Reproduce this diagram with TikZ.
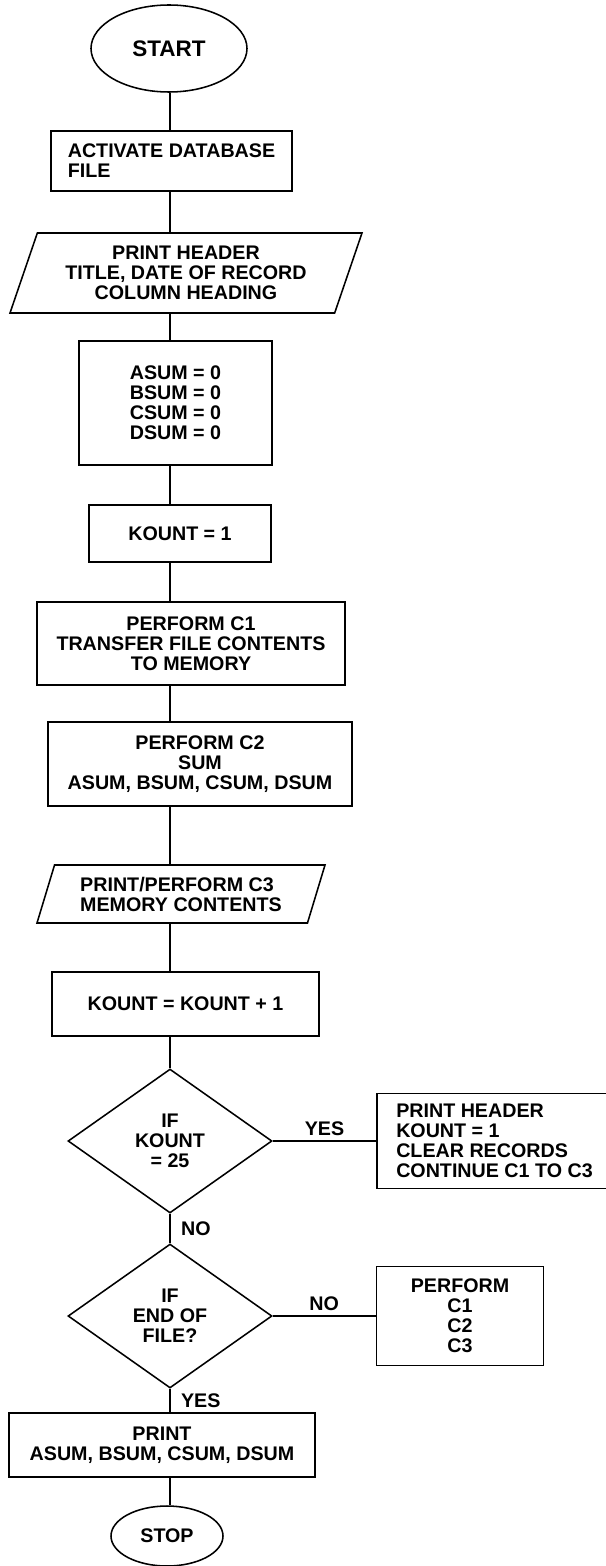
\documentclass[tikz,border=0pt]{standalone}
\usepackage{fontspec}
\setmainfont{Liberation Sans}
\usetikzlibrary{shapes.geometric}

\begin{document}
\begin{tikzpicture}[line width=1.1pt,
    every node/.style={font=\fontsize{14}{14.2}\selectfont\bfseries},
    box/.style={draw, rectangle, inner sep=0pt},
    io/.style={draw, trapezium, trapezium left angle=63, trapezium right angle=117, trapezium stretches body, inner sep=0pt},
    dec/.style={draw, diamond, inner sep=0pt},
    term/.style={draw, ellipse, inner sep=0pt}]
                \useasboundingbox (0,0) rectangle (15.125,-39.15);
                \coordinate (sp) at (4.25,0);

                \node[term, minimum width=3.9cm, minimum height=2.175cm, font=\fontsize{16}{16}\selectfont\bfseries] (start) at (4.225,-1.2125) {START};
                \node[box, minimum width=6.025cm, minimum height=1.5cm, align=left] (act) at (4.2875,-4.025) {ACTIVATE DATABASE\\FILE};
                \node[io, minimum width=8.8cm, minimum height=2cm, align=center] (hdr) at (4.65,-6.825) {PRINT HEADER\\TITLE, DATE OF RECORD\\COLUMN HEADING};
                \node[box, minimum width=4.825cm, minimum height=3.1cm, align=left] (sums) at (4.3875,-10.075) {ASUM = 0\\BSUM = 0\\CSUM = 0\\DSUM = 0};
                \node[box, minimum width=4.55cm, minimum height=1.425cm] (k1) at (4.5,-13.3375) {KOUNT = 1};
                \node[box, minimum width=7.7cm, minimum height=2.075cm, align=center] (c1) at (4.775,-16.0875) {PERFORM C1\\TRANSFER FILE CONTENTS\\TO MEMORY};
                \node[box, minimum width=7.6cm, minimum height=2.1cm, align=center] (c2) at (5,-19.1) {PERFORM C2\\SUM\\ASUM, BSUM, CSUM, DSUM};
                \node[io, minimum width=7.2cm, minimum height=1.45cm, align=left] (c3) at (4.525,-22.35) {PRINT/PERFORM C3\\MEMORY CONTENTS};
                \node[box, minimum width=6.675cm, minimum height=1.6cm] (kinc) at (4.6375,-25.1) {KOUNT = KOUNT + 1};
                \node[dec, minimum width=5.1cm, minimum height=3.6cm, align=center] (d1) at (4.25,-28.525) {IF\\KOUNT\\= 25};
                \node[box, minimum width=5.875cm, minimum height=2.375cm, align=left] (rst) at (12.3625,-28.525) {PRINT HEADER\\KOUNT = 1\\CLEAR RECORDS\\CONTINUE C1 TO C3};
                \node[dec, minimum width=5.1cm, minimum height=3.6cm, align=center] (d2) at (4.25,-32.9) {IF\\END OF\\FILE?};
                \node[box, minimum width=4.175cm, minimum height=2.475cm, align=center] (perf) at (11.5,-32.9) {PERFORM\\C1\\C2\\C3};
                \node[box, minimum width=7.65cm, minimum height=1.6cm, align=center] (prt) at (4.05,-36.125) {PRINT\\ASUM, BSUM, CSUM, DSUM};
                \node[term, minimum width=2.8cm, minimum height=1.5cm] (stop) at (4.175,-38.4) {STOP};

                \draw (start.south -| sp) -- (act.north -| sp);
                \draw (act.south -| sp) -- (hdr.north -| sp);
                \draw (hdr.south -| sp) -- (sums.north -| sp);
                \draw (sums.south -| sp) -- (k1.north -| sp);
                \draw (k1.south -| sp) -- (c1.north -| sp);
                \draw (c1.south -| sp) -- (c2.north -| sp);
                \draw (c2.south -| sp) -- (c3.north -| sp);
                \draw (c3.south -| sp) -- (kinc.north -| sp);
                \draw (kinc.south -| sp) -- (d1.north);
                \draw (d1.east) -- node[above] {YES} (rst.west);
                \draw (d1.south) -- node[right, xshift=4pt] {NO} (d2.north);
                \draw (d2.east) -- node[above] {NO} (perf.west);
                \draw (d2.south) -- node[right, xshift=4pt] {YES} (d2.south |- prt.north);
                \draw (prt.south -| sp) -- (stop.north -| sp);
    \end{tikzpicture}
\end{document}
